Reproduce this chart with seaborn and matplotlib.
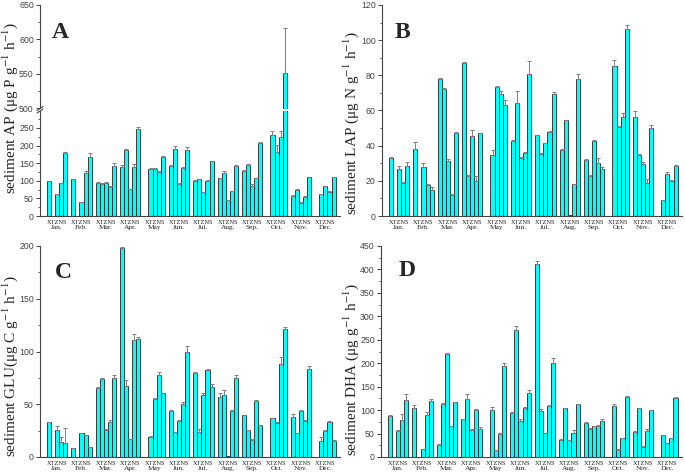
import numpy as np
import pandas as pd
import matplotlib
matplotlib.use('Agg')
import matplotlib.pyplot as plt
from matplotlib.ticker import MultipleLocator
from matplotlib.transforms import blended_transform_factory
import seaborn as sns

months = ['Jan.', 'Feb.', 'Mar.', 'Apr.', 'May', 'Jun.', 'Jul.', 'Aug.', 'Sep.', 'Oct.', 'Nov.', 'Dec.']
sites = ['X', 'T', 'Z', 'N', 'S']

# one row per month, columns in site order X T Z N S (0 = no bar)
ap = [[98, 0, 62, 93, 180], [104, 0, 40, 122, 168], [93, 92, 94, 81, 142], [138, 188, 76, 140, 246],
      [0, 134, 132, 125, 168], [142, 190, 90, 137, 186], [100, 105, 68, 100, 155], [107, 123, 44, 70, 143],
      [128, 146, 84, 108, 208], [0, 230, 183, 223, 551], [58, 75, 38, 53, 110], [0, 62, 84, 68, 110]]
ap_err = [[1, 0, 1, 1, 1], [2, 0, 1, 5, 10], [3, 2, 2, 4, 8], [6, 2, 2, 7, 7],
          [0, 2, 3, 2, 3], [4, 8, 5, 2, 9], [1, 1, 1, 2, 1], [2, 4, 1, 1, 1],
          [2, 1, 6, 1, 2], [0, 12, 18, 17, 66], [2, 2, 1, 3, 2], [0, 1, 2, 3, 2]]

lap = [[33, 0, 27, 19, 28.5], [38, 0, 28, 17.5, 15], [78, 72, 31, 12, 47], [87, 23, 45.5, 20, 47],
       [0, 34.5, 73.5, 69.5, 63], [42.5, 64.5, 33, 36, 80.5], [46, 35.5, 41.5, 48, 69.5], [37.5, 54.5, 0.3, 18, 78],
       [32, 23, 42.5, 30, 27], [0, 85.5, 50.5, 56.5, 106.5], [56.5, 34.5, 29.5, 19, 50], [0, 9, 24, 20, 28.5]]
lap_err = [[0.3, 0, 1.5, 0.5, 2], [4, 0, 2, 0.5, 1.5], [0.5, 1, 1.5, 0.3, 1], [0.3, 0.3, 3.5, 2.5, 0.3],
           [0, 3, 0.5, 1.5, 3], [0.5, 6.5, 0.5, 0.3, 7.5], [0.3, 0.3, 0.3, 0.3, 1], [0.5, 0.3, 0, 0.3, 2.5],
           [0.5, 0.3, 1, 3, 1], [0, 3.5, 0.5, 2, 2], [3, 1, 1, 2, 2], [0, 0.3, 1, 0.5, 0.3]]

glu = [[33, 0, 25.5, 14, 13.5], [8.5, 0, 22.5, 20.5, 9.5], [65.5, 74, 26, 33.5, 74.5], [198, 67, 17, 110.5, 111.5],
       [0, 19, 55, 77.5, 60.5], [43.5, 23.5, 34.5, 50.5, 100], [80, 23.5, 59, 82.5, 66.5], [56.5, 58.5, 1, 44, 74.5],
       [39.5, 25.5, 16.5, 53.5, 30.5], [0, 36.5, 32.5, 88.5, 121], [37.5, 22.5, 43.5, 34.5, 83], [0, 15, 25, 33, 15]]
glu_err = [[0.5, 0, 3.5, 4.5, 14], [0.5, 0, 0.5, 0.5, 0.3], [0.5, 0.5, 0.3, 1.5, 3], [1.5, 6, 0.5, 6.5, 2],
           [0, 0.5, 1, 3, 0.5], [1.5, 0.5, 0.5, 1.5, 5.5], [0.3, 3, 1.5, 1, 2.5], [4, 5, 0, 0.3, 3],
           [0.5, 0.3, 0.3, 0.5, 0.3], [0, 0.5, 0.3, 6, 2.5], [3.5, 0.3, 1, 0.3, 3], [0, 3.5, 0.3, 1.5, 1.5]]

dha = [[87, 0, 56, 78, 121], [105, 0, 16, 89, 120], [26, 112, 219, 66, 117], [80, 123, 57, 101, 59],
       [0, 100, 14, 50, 195], [94, 271, 76, 105, 137], [412, 99, 51, 109, 200], [37, 104, 36, 52, 113],
       [73, 60, 66, 66, 76], [0, 108, 15, 40, 128], [53, 104, 22, 55, 100], [0, 46, 29, 40, 125]]
dha_err = [[3, 0, 1, 14, 14], [6, 0, 2, 6, 4], [1, 3, 3, 1, 1], [2, 12, 2, 1, 5],
           [0, 7, 1, 2, 6], [2, 9, 4, 2, 6], [5, 3, 1, 2, 11], [1, 1, 1, 6, 1],
           [1, 1, 1, 2, 6], [0, 6, 1, 1, 2], [2, 1, 1, 4, 1], [0, 1, 1, 1, 2]]

sns.set_style('ticks')
plt.rcParams['font.family'] = ['Liberation Serif', 'DejaVu Serif']
plt.rcParams['mathtext.fontset'] = 'stix'

BAR = '#00FFFF'
EDGE = '#222222'
ERR = '#808080'
AXC = '#444444'


def to_frame(vals, errs):
    rows = []
    for i, m in enumerate(months):
        for j, s in enumerate(sites):
            rows.append({'month': m, 'site': s, 'value': vals[i][j], 'err': errs[i][j]})
    return pd.DataFrame(rows)


def draw_bars(ax, df):
    sns.barplot(data=df, x='month', y='value', hue='site', order=months, hue_order=sites,
                palette=[BAR] * 5, width=0.84, gap=0, errorbar=None, legend=False,
                edgecolor=EDGE, linewidth=0.6, saturation=1, ax=ax)
    bar_sets = list(ax.containers)[:len(sites)]
    for j, cont in enumerate(bar_sets):
        sub = df[df['site'] == sites[j]].set_index('month').loc[months]
        xs, hs, es = [], [], []
        for bar, v, e in zip(cont, sub['value'], sub['err']):
            if v > 0 and e > 0:
                xs.append(bar.get_x() + bar.get_width() / 2)
                hs.append(v)
                es.append(e)
        if xs:
            ax.errorbar(xs, hs, yerr=[np.zeros(len(es)), es], fmt='none', ecolor=ERR,
                        elinewidth=0.7, capsize=1.6, capthick=0.7)


def style_axis(ax, ylim, major, minor, xlabels=True):
    ax.set_ylim(*ylim)
    ax.set_xlim(-0.7, 11.6)
    ax.yaxis.set_major_locator(MultipleLocator(major))
    ax.yaxis.set_minor_locator(MultipleLocator(minor))
    ax.tick_params(axis='y', which='major', length=3, width=0.7, colors=AXC,
                   labelsize=6.3, pad=1.5)
    ax.tick_params(axis='y', which='minor', length=1.8, width=0.6, colors=AXC)
    ax.set_xticks(range(12))
    if xlabels:
        ax.set_xticklabels(months, fontsize=5.3)
        ax.tick_params(axis='x', length=0, pad=6.5, colors='#222222')
        trans = blended_transform_factory(ax.transData, ax.transAxes)
        for i in range(12):
            ax.annotate('XTZNS', (i, 0), xycoords=trans, xytext=(0, -4.5),
                        textcoords='offset points', ha='center', va='center',
                        fontsize=4.6, color='#222222')
    else:
        ax.set_xticklabels([])
        ax.tick_params(axis='x', length=0)
    ax.set_xlabel('')
    ax.set_ylabel('')
    for s in ['top', 'right']:
        ax.spines[s].set_visible(False)
    for s in ['left', 'bottom']:
        ax.spines[s].set_color(AXC)
        ax.spines[s].set_linewidth(0.8)


def sans_ticks(ax):
    for lab in ax.get_yticklabels():
        lab.set_family('Liberation Sans')


W, H = 685, 475
fig = plt.figure(figsize=(6.85, 4.75), dpi=100)


def box(left, top, right, bottom):
    return [left / W, 1 - bottom / H, (right - left) / W, (bottom - top) / H]


df_ap = to_frame(ap, ap_err)
ax_a_top = fig.add_axes(box(40, 5, 340, 108.5))
ax_a_bot = fig.add_axes(box(40, 111, 340, 216))
draw_bars(ax_a_top, df_ap)
draw_bars(ax_a_bot, df_ap)
style_axis(ax_a_top, (500, 650), 50, 25, xlabels=False)
style_axis(ax_a_bot, (0, 298), 50, 25)
ax_a_bot.set_yticks([0, 50, 100, 150, 200, 250])
ax_a_top.set_yticks([500, 550, 600, 650])
ax_a_top.spines['bottom'].set_visible(False)
# break marks on the y axis
for yy in (108.5, 111):
    x0, x1 = 37 / W, 43 / W
    fig.add_artist(plt.Line2D([x0, x1], [1 - (yy + 2) / H, 1 - (yy - 2) / H],
                              color=AXC, lw=0.8))

df_lap = to_frame(lap, lap_err)
ax_b = fig.add_axes(box(382, 5, 682, 216))
draw_bars(ax_b, df_lap)
style_axis(ax_b, (0, 120), 20, 10)

df_glu = to_frame(glu, glu_err)
ax_c = fig.add_axes(box(40, 246, 340, 457))
draw_bars(ax_c, df_glu)
style_axis(ax_c, (0, 200), 50, 25)

df_dha = to_frame(dha, dha_err)
ax_d = fig.add_axes(box(381, 246, 682, 457))
draw_bars(ax_d, df_dha)
style_axis(ax_d, (0, 450), 50, 25)

for ax in (ax_a_top, ax_a_bot, ax_b, ax_c, ax_d):
    sans_ticks(ax)

ylabels = [
    (10, 108, 'sediment AP (μg P g$^{-1}$ h$^{-1}$)'),
    (351, 123, 'sediment LAP (μg N g$^{-1}$ h$^{-1}$)'),
    (10, 366, 'sediment GLU(μg C g$^{-1}$ h$^{-1}$)'),
    (351, 369, 'sediment DHA (μg g$^{-1}$ h$^{-1}$)'),
]
for x, y, t in ylabels:
    fig.text(x / W, 1 - y / H, t, rotation=90, ha='center', va='center', fontsize=11)

panel_tags = [(60, 33, 'A'), (402, 32, 'B'), (63, 272, 'C'), (407, 271, 'D')]
for x, y, t in panel_tags:
    fig.text(x / W, 1 - y / H, t, ha='center', va='center', fontsize=17, fontweight='bold')

fig.savefig('out.png', dpi=100)
